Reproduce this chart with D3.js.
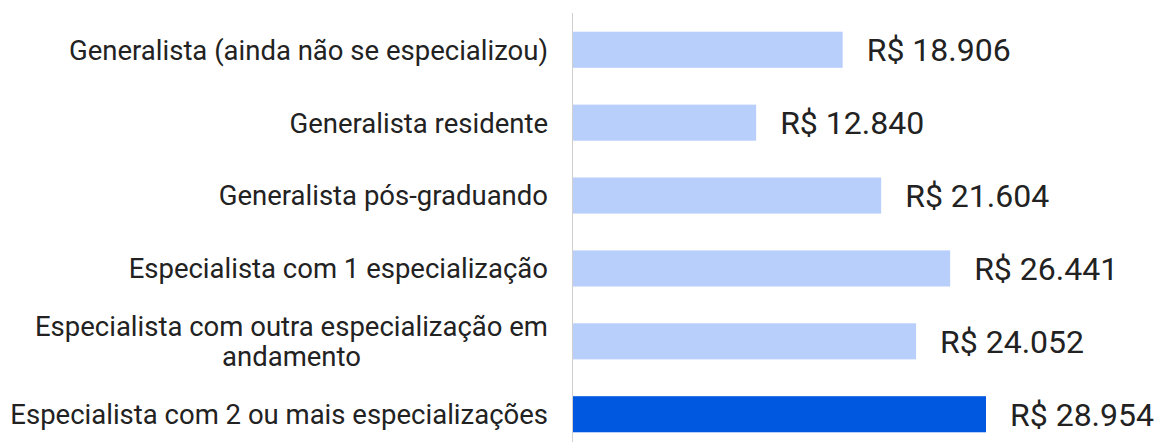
<!DOCTYPE html>
<html>
<head>
<meta charset="utf-8">
<script src="https://cdn.jsdelivr.net/npm/d3@7"></script>
<style>
  html, body { margin: 0; padding: 0; background: #fff; }
  svg { display: block; }
</style>
</head>
<body>
<svg id="chart" width="1168" height="442"></svg>
<script>
// Salary by specialization profile
const categories = [
  "Generalista (ainda não se especializou)",
  "Generalista residente",
  "Generalista pós-graduando",
  "Especialista com 1 especialização",
  "Especialista com outra especialização em andamento",
  "Especialista com 2 ou mais especializações"
];
const labelLines = [
  ["Generalista (ainda não se especializou)"],
  ["Generalista residente"],
  ["Generalista pós-graduando"],
  ["Especialista com 1 especialização"],
  ["Especialista com outra especialização em", "andamento"],
  ["Especialista com 2 ou mais especializações"]
];
const salaries = [18906, 12840, 21604, 26441, 24052, 28954];
const highlighted = [false, false, false, false, false, true];

const svg = d3.select("#chart");
const axisX = 573;
const labelRight = 548;
const fontFamily = "Roboto, 'Noto Sans', sans-serif";

const x = d3.scaleLinear().domain([0, 28954]).range([axisX, 986]);
const y = d3.scaleBand().domain(categories).range([13.5, 450.5]).paddingInner(0.505).paddingOuter(0.25);

const fmt = v => "R$ " + d3.format(",")(v).replace(/,/g, ".");

// bars
svg.selectAll("rect.bar")
  .data(categories)
  .join("rect")
  .attr("class", "bar")
  .attr("x", axisX)
  .attr("y", d => y(d))
  .attr("width", (d, i) => x(salaries[i]) - axisX)
  .attr("height", y.bandwidth())
  .attr("fill", (d, i) => highlighted[i] ? "#0058E0" : "#B8CEFB");

// vertical baseline
svg.append("line")
  .attr("x1", axisX - 0.5).attr("x2", axisX - 0.5)
  .attr("y1", 13).attr("y2", 442)
  .attr("stroke", "#d0d0d0").attr("stroke-width", 1);

// value labels
svg.selectAll("text.value")
  .data(categories)
  .join("text")
  .attr("class", "value")
  .attr("x", (d, i) => x(salaries[i]) + 24)
  .attr("y", d => y(d) + y.bandwidth() / 2)
  .attr("dy", "0.36em")
  .attr("font-family", fontFamily)
  .attr("font-size", 32)
  .attr("fill", "#222")
  .text((d, i) => fmt(salaries[i]));

// category labels (multi-line labels are centred within their block)
const lineHeight = 30;
const catGroups = svg.selectAll("g.cat")
  .data(categories)
  .join("g")
  .attr("class", "cat");

catGroups.each(function(d, i) {
  const g = d3.select(this);
  const lines = labelLines[i];
  const cy = y(d) + y.bandwidth() / 2;
  const texts = lines.map((ln, k) => g.append("text")
    .attr("font-family", fontFamily)
    .attr("font-size", 27.5)
    .attr("fill", "#222")
    .attr("y", cy + (k - (lines.length - 1) / 2) * lineHeight)
    .attr("dy", "0.36em")
    .text(ln));
  const maxW = d3.max(texts, t => t.node().getComputedTextLength());
  texts.forEach(t => t.attr("text-anchor", "middle").attr("x", labelRight - maxW / 2));
});
</script>
</body>
</html>
